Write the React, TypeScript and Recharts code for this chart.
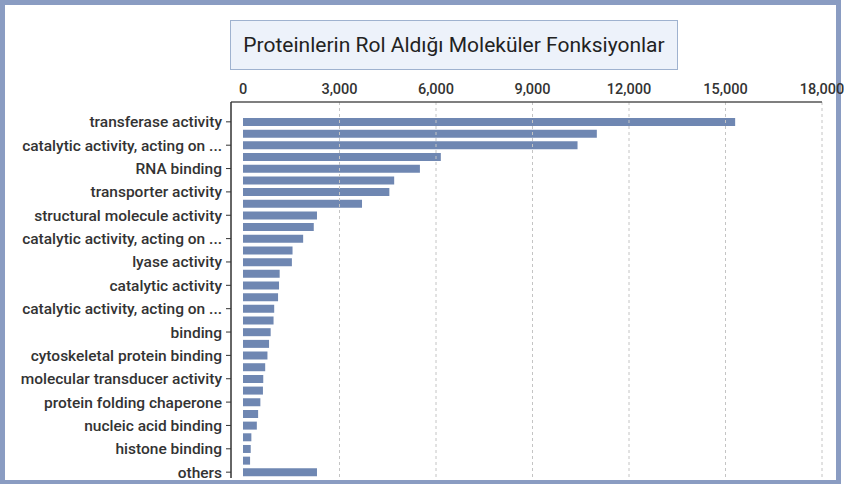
import { BarChart, Bar, XAxis, YAxis, ReferenceLine } from "recharts";

const functionNames = [
  "transferase activity",
  "hydrolase activity",
  "catalytic activity, acting on a protein",
  "oxidoreductase activity",
  "RNA binding",
  "protein-containing complex binding",
  "transporter activity",
  "ligase activity",
  "structural molecule activity",
  "DNA binding",
  "catalytic activity, acting on RNA",
  "enzyme regulator activity",
  "lyase activity",
  "isomerase activity",
  "catalytic activity",
  "transcription regulator activity",
  "catalytic activity, acting on DNA",
  "translation regulator activity",
  "binding",
  "lipid binding",
  "cytoskeletal protein binding",
  "ATP-dependent activity",
  "molecular transducer activity",
  "carbohydrate binding",
  "protein folding chaperone",
  "molecular adaptor activity",
  "nucleic acid binding",
  "antioxidant activity",
  "histone binding",
  "cargo receptor activity",
  "others",
];

const proteinCounts = [
  15300, 11000, 10400, 6150, 5500, 4700, 4550, 3700, 2300, 2200, 1870, 1540,
  1520, 1140, 1120, 1090, 970, 950, 860, 810, 760, 690, 630, 620, 540, 470,
  430, 260, 240, 220, 2300,
];

const xTicks = [0, 3000, 6000, 9000, 12000, 15000, 18000];

const data = functionNames.map((name, i) => ({ name, count: proteinCounts[i] }));

const FONT = "Roboto, 'Noto Sans', sans-serif";

const shortLabel = (v: string) => (v.length > 30 ? v.slice(0, 29) + " ..." : v);

export default function App() {
  return (
    <div style={{ position: "absolute", left: 0, top: 0, width: 844, height: 486, background: "#fff" }}>
      <div
        style={{
          position: "absolute",
          left: 0,
          top: 0,
          width: 841,
          height: 484,
          boxSizing: "border-box",
          border: "5px solid #8a9cc2",
          borderBottomWidth: 4,
        }}
      />
      <div
        style={{
          position: "absolute",
          left: 230,
          top: 20,
          width: 448,
          height: 50,
          boxSizing: "border-box",
          border: "1.5px solid #9fb2cf",
          background: "#edf2fa",
          display: "flex",
          alignItems: "center",
          justifyContent: "center",
          fontFamily: FONT,
          fontSize: 21,
          color: "#222",
        }}
      >
        Proteinlerin Rol Aldığı Moleküler Fonksiyonlar
      </div>
      <div style={{ position: "absolute", left: 0, top: 0 }}>
        <BarChart
          width={844}
          height={486}
          data={data}
          layout="vertical"
          margin={{ top: 72, right: 22, bottom: 8, left: 0 }}
          style={{ fontFamily: FONT }}
        >
          {xTicks.slice(1).map((t) => (
            <ReferenceLine key={t} x={t} stroke="#c4c4c4" strokeDasharray="3 3" ifOverflow="extendDomain" />
          ))}
          <XAxis
            type="number"
            orientation="top"
            domain={[0, 18000]}
            ticks={xTicks}
            tickFormatter={(v: number) => v.toLocaleString("en-US")}
            tickLine={false}
            axisLine={{ stroke: "#555", strokeWidth: 1.5 }}
            tick={{ fill: "#333", fontSize: 14.5, fontWeight: 500 }}
            padding={{ left: 12, right: 0 }}
            height={30}
          />
          <YAxis
            type="category"
            dataKey="name"
            width={231}
            interval={1}
            tickFormatter={shortLabel}
            tick={{ fill: "#333", fontSize: 15.5, fontWeight: 500 }}
            tickSize={5}
            tickMargin={4}
            tickLine={{ stroke: "#333" }}
            axisLine={{ stroke: "#333", strokeWidth: 1.5 }}
            padding={{ top: 14, bottom: 0 }}
          />
          <Bar dataKey="count" fill="#6f87b2" barSize={8} isAnimationActive={false} />
        </BarChart>
      </div>
    </div>
  );
}
